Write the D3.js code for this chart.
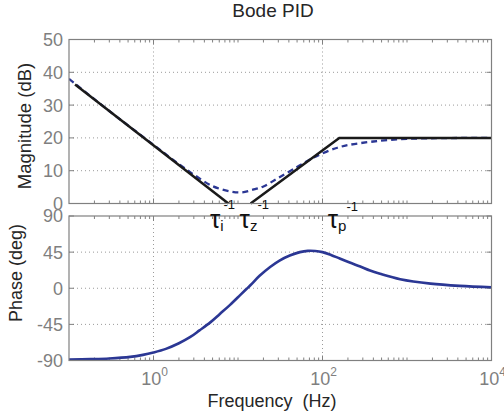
<!DOCTYPE html>
<html>
<head>
<meta charset="utf-8">
<script src="https://cdn.jsdelivr.net/npm/d3@7"></script>
<style>
  body { margin: 0; background: #fff; }
  svg { display: block; }
  text { font-family: "Liberation Sans", Arial, Helvetica, sans-serif; }
</style>
</head>
<body>
<div id="chart"></div>
<script>
// Magnitude of the PID (blue dashed)
var magFreq = [0.1, 0.3, 1, 2, 3, 5, 8, 11, 15, 20, 30, 50, 70, 100, 150, 200, 400, 1000, 3000, 10000];
var magDb   = [38.0, 28.2, 17.9, 12.0, 8.8, 5.3, 3.7, 3.4, 4.2, 5.2, 7.8, 11.1, 13.3, 15.3, 17.0, 17.8, 18.9, 19.7, 19.95, 20.0];

// Asymptotes (black): integral part, then derivative + filter part
var asymLowFreq  = [0.118, 7.7];
var asymLowDb    = [36.3, 0];
var asymHighFreq = [14.1, 158, 10000];
var asymHighDb   = [0, 20, 20];

// Phase (blue solid)
var phaseFreq = [0.1, 0.18, 0.3, 0.53, 0.75, 1, 1.4, 2, 2.7, 3.5, 4.7, 6.1, 8, 10.6, 12.4, 14, 18, 24, 31, 41, 54, 67, 82, 100, 126, 160, 210, 280, 365, 480, 830, 1900, 4200, 10000];
var phaseDeg  = [-88.8, -88.3, -87.5, -85.5, -83, -80, -75.5, -68.5, -61, -52.5, -42.5, -32, -21, -8.6, -1.6, 3.7, 15.5, 26.5, 34.5, 40.8, 45, 46.6, 46.4, 45, 41.5, 37, 32, 27, 22, 18, 11.3, 5.8, 3, 1.3];

// Ticks
var magTicks = [0, 10, 20, 30, 40, 50];
var phaseTicks = [-90, -45, 0, 45, 90];
var freqMajorExp = [0, 2, 4];

// Break points labelled below the magnitude axis
var tauNames = ['i', 'z', 'p'];
var tauFreq = [7.7, 14.1, 158];

var W = 504, H = 420;
var left = 69, right = 491.5;
var magTop = 39.5, magBot = 203.5;
var phTop = 216, phBot = 360.5;

var blue = '#2b3794', black = '#1a1a1a', axisGray = '#808080', textGray = '#7f7f7f';

var svg = d3.select('#chart').append('svg')
    .attr('width', W)
    .attr('height', H);

var x = d3.scaleLog().domain([0.1, 1e4]).range([left, right]);
var yMag = d3.scaleLinear().domain([0, 50]).range([magBot, magTop]);
var yPh = d3.scaleLinear().domain([-90, 90]).range([phBot, phTop]);

// minor log ticks (every m*10^k that is not a labelled major)
var minorFreq = [];
for (var k = -1; k <= 3; k++) {
    for (var m = 1; m <= 9; m++) {
        var f = m * Math.pow(10, k);
        if (freqMajorExp.indexOf(Math.log10(f)) < 0 && f > 0.1) minorFreq.push(f);
    }
}
var majorFreq = freqMajorExp.map(function (e) { return Math.pow(10, e); });

function panel(id, y, ticks, top, bot) {
    var g = svg.append('g');

    g.append('clipPath').attr('id', id)
        .append('rect').attr('x', left).attr('y', top).attr('width', right - left).attr('height', bot - top);

    // dotted grid
    g.selectAll('.hgrid').data(ticks.slice(1, -1)).join('line')
        .attr('x1', left).attr('x2', right)
        .attr('y1', function (d) { return y(d); }).attr('y2', function (d) { return y(d); })
        .attr('stroke', '#9a9a9a').attr('stroke-width', 1).attr('stroke-dasharray', '1,3');
    g.selectAll('.vgrid').data(majorFreq.slice(0, 2)).join('line')
        .attr('x1', function (d) { return x(d); }).attr('x2', function (d) { return x(d); })
        .attr('y1', top).attr('y2', bot)
        .attr('stroke', '#9a9a9a').attr('stroke-width', 1).attr('stroke-dasharray', '1,3');

    // inward ticks, bottom and top
    [[majorFreq, 5], [minorFreq, 3]].forEach(function (set) {
        [[bot, -1], [top, 1]].forEach(function (side) {
            g.selectAll(null).data(set[0]).join('line')
                .attr('x1', function (d) { return x(d); }).attr('x2', function (d) { return x(d); })
                .attr('y1', side[0]).attr('y2', side[0] + side[1] * set[1])
                .attr('stroke', axisGray).attr('stroke-width', 1);
        });
    });
    // inward ticks, left and right
    [[left, 1], [right, -1]].forEach(function (side) {
        g.selectAll(null).data(ticks).join('line')
            .attr('x1', side[0]).attr('x2', side[0] + side[1] * 5)
            .attr('y1', function (d) { return y(d); }).attr('y2', function (d) { return y(d); })
            .attr('stroke', axisGray).attr('stroke-width', 1);
    });

    // tick labels
    g.selectAll('.ylab').data(ticks).join('text')
        .attr('x', left - 6)
        .attr('y', function (d) { return y(d); })
        .attr('dy', '0.36em')
        .attr('text-anchor', 'end')
        .attr('fill', textGray)
        .style('font-size', '18px')
        .text(function (d) { return d; });

    return g;
}

var gMag = panel('clipMag', yMag, magTicks, magTop, magBot);
var gPh = panel('clipPh', yPh, phaseTicks, phTop, phBot);

function pairs(fs, vs) { return fs.map(function (f, i) { return [f, vs[i]]; }); }

var magLine = d3.line().x(function (d) { return x(d[0]); }).y(function (d) { return yMag(d[1]); }).curve(d3.curveCatmullRom.alpha(0.5));
var asymLine = d3.line().x(function (d) { return x(d[0]); }).y(function (d) { return yMag(d[1]); });
var phLine = d3.line().x(function (d) { return x(d[0]); }).y(function (d) { return yPh(d[1]); }).curve(d3.curveCatmullRom.alpha(0.5));

gMag.append('path')
    .attr('d', magLine(pairs(magFreq, magDb)))
    .attr('clip-path', 'url(#clipMag)')
    .attr('fill', 'none').attr('stroke', blue).attr('stroke-width', 2.3)
    .attr('stroke-dasharray', '6,4');

[pairs(asymLowFreq, asymLowDb), pairs(asymHighFreq, asymHighDb)].forEach(function (seg) {
    gMag.append('path')
        .attr('d', asymLine(seg))
        .attr('fill', 'none').attr('stroke', black).attr('stroke-width', 2.5);
});

gPh.append('path')
    .attr('d', phLine(pairs(phaseFreq, phaseDeg)))
    .attr('clip-path', 'url(#clipPh)')
    .attr('fill', 'none').attr('stroke', blue).attr('stroke-width', 2.6);

// axes boxes
[[magTop, magBot], [phTop, phBot]].forEach(function (b) {
    svg.append('rect')
        .attr('x', left).attr('y', b[0]).attr('width', right - left).attr('height', b[1] - b[0])
        .attr('fill', 'none').attr('stroke', axisGray).attr('stroke-width', 1.2);
});

// x tick labels 10^k
var xl = svg.selectAll('.xlab').data(freqMajorExp).join('text')
    .attr('x', function (d) { return x(Math.pow(10, d)) + 1; })
    .attr('y', 385)
    .attr('text-anchor', 'middle')
    .attr('fill', textGray)
    .style('font-size', '18px');
xl.append('tspan').text('10');
xl.append('tspan').attr('dy', -9).style('font-size', '12px').text(function (d) { return d; });

// tau labels
var tauDx = [-18.5, -11, -11.5];
var tl = svg.selectAll('.tau').data(tauNames).join('text')
    .attr('x', function (d, i) { return x(tauFreq[i]) + tauDx[i]; })
    .attr('y', 228)
    .attr('fill', '#111');
tl.append('tspan').style('font-size', '26px').text('\u03c4');
tl.append('tspan').attr('dy', 3).style('font-size', '15px').text(function (d) { return d; });
tl.append('tspan').attr('dy', function (d) { return d === 'p' ? -20 : -22; })
    .style('font-size', '13px').text('-1');

// titles
svg.append('text')
    .attr('x', 273).attr('y', 17)
    .attr('text-anchor', 'middle').attr('fill', '#262626')
    .style('font-size', '19px')
    .text('Bode PID');

svg.append('text')
    .attr('x', 272).attr('y', 406.5)
    .attr('text-anchor', 'middle').attr('fill', '#262626')
    .style('font-size', '18px').style('white-space', 'pre')
    .text('Frequency  (Hz)');

svg.append('text')
    .attr('transform', 'translate(31,' + 126 + ') rotate(-90)')
    .attr('text-anchor', 'middle').attr('fill', '#262626')
    .style('font-size', '18.5px')
    .text('Magnitude (dB)');

svg.append('text')
    .attr('transform', 'translate(22,' + 273 + ') rotate(-90)')
    .attr('text-anchor', 'middle').attr('fill', '#262626')
    .style('font-size', '18px')
    .text('Phase (deg)');
</script>
</body>
</html>
